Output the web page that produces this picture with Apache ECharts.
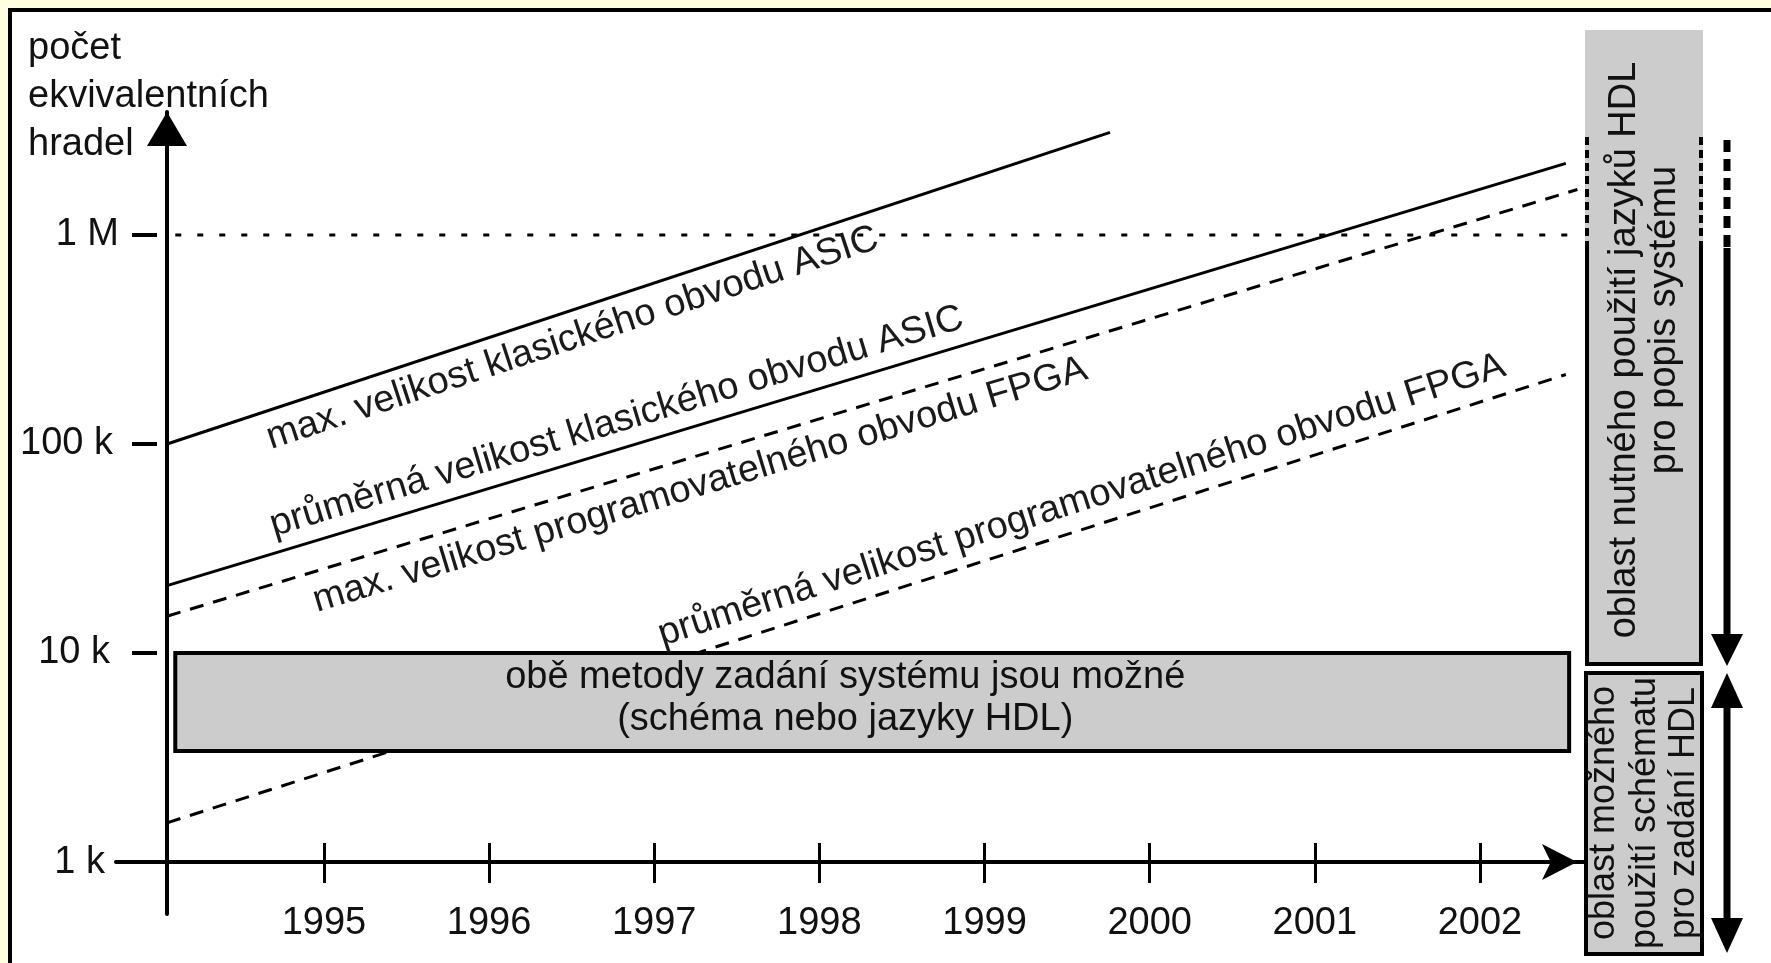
<!DOCTYPE html>
<html>
<head>
<meta charset="utf-8">
<script src="https://cdn.jsdelivr.net/npm/echarts/dist/echarts.min.js"></script>
<style>
html,body{margin:0;padding:0;background:#ffffff;}
#chart{width:1771px;height:963px;}
</style>
</head>
<body>
<div id="chart"></div>
<script>
// ---------------- data ----------------
const years = [1995, 1996, 1997, 1998, 1999, 2000, 2001, 2002];
const yTickValues = [1000, 10000, 100000, 1000000];
const yTickLabels = ['1 k', '10 k', '100 k', '1 M'];

const seriesNames = [
  'max. velikost klasického obvodu ASIC',
  'průměrná velikost klasického obvodu ASIC',
  'max. velikost programovatelného obvodu FPGA',
  'průměrná velikost programovatelného obvodu FPGA'
];
// [year, number of equivalent gates]
const maxAsic = [[1994.05, 100000], [1999.76, 3100000]];
const avgAsic = [[1994.05, 21000], [2002.52, 2200000]];
const maxFpga = [[1994.05, 15000], [2002.59, 1650000]];
const avgFpga = [[1994.05, 1540], [2002.52, 215000]];
const oneMillion = [[1994.10, 1000000], [2002.55, 1000000]];

// region where both methods are possible
const bothYears = [1994.10, 2002.54];
const bothGates = [10000, 3400];
const bothText = 'obě metody zadání systému jsou možné\n(schéma nebo jazyky HDL)';

const yTitle = 'počet\nekvivalentních\nhradel';
const hdlText = ['oblast nutného použití jazyků HDL', 'pro popis systému'];
const schemText = ['oblast možného', 'použití schématu', 'pro zadání HDL'];

// ---------------- layout ----------------
const FONT = '"Liberation Sans", Arial, Helvetica, sans-serif';
const X_MIN = 1993.741, X_MAX = 2002.636;
const Y_MIN = 564, Y_MAX = 3877000;
const lineSets = [maxAsic, avgAsic, maxFpga, avgFpga];
// label placement along each line: fraction, side (+1 below, -1 above), distance px
const labelLayout = [
  {line: 0, t: 0.421, side: 1, dist: 27},
  {line: 1, t: 0.327, side: -1, dist: 27},
  {line: 2, t: 0.372, side: 1, dist: 29},
  {line: 3, t: 0.660, side: -1, dist: 28}
];
// right padding of y tick labels (1 k, 10 k, 100 k, 1 M)
const yLabelPad = [14, 9, 6, 0];

function yLabel(v) {
  for (let i = 0; i < yTickValues.length; i++) {
    if (Math.abs(Math.log10(v) - Math.log10(yTickValues[i])) < 1e-6) return '{p' + i + '|' + yTickLabels[i] + '}';
  }
  return '';
}
const yRich = {};
yLabelPad.forEach((p, i) => {
  yRich['p' + i] = {fontSize: 38, fontFamily: FONT, color: '#111', padding: [0, p, 0, 0]};
});

const chart = echarts.init(document.getElementById('chart'), null, {renderer: 'canvas'});

const lineStyles = [
  {color: '#000', width: 3, type: 'solid'},
  {color: '#000', width: 3, type: 'solid'},
  {color: '#000', width: 3, type: [14, 10]},
  {color: '#000', width: 3, type: [14, 10]}
];

const series = lineSets.map((d, i) => ({
  type: 'line', name: seriesNames[i], data: d, xAxisIndex: 0, yAxisIndex: 0,
  symbol: 'none', lineStyle: lineStyles[i], clip: false, silent: true, z: 2,
  animation: false
}));

series.push({
  type: 'line', name: '1 M', data: oneMillion, xAxisIndex: 0, yAxisIndex: 0,
  symbol: 'none', lineStyle: {color: '#000', width: 3, type: [6, 16]},
  clip: false, silent: true, z: 2, animation: false
});

series.push({
  type: 'custom', name: 'both', xAxisIndex: 0, yAxisIndex: 0, z: 5, clip: false,
  silent: true, animation: false,
  data: [[bothYears[0], bothGates[0], bothYears[1], bothGates[1]]],
  renderItem: function (params, api) {
    const a = api.coord([api.value(0), api.value(1)]);
    const b = api.coord([api.value(2), api.value(3)]);
    return {
      type: 'rect',
      shape: {x: a[0], y: a[1], width: b[0] - a[0], height: b[1] - a[1]},
      style: {fill: '#cccccc', stroke: '#000', lineWidth: 4},
      textContent: {
        style: {text: bothText, font: '38px ' + FONT, fill: '#111',
                align: 'center', verticalAlign: 'middle', lineHeight: 42}
      },
      textConfig: {position: 'inside', offset: [-27, -3]}
    };
  }
});

series.push({
  type: 'custom', name: 'labels', xAxisIndex: 0, yAxisIndex: 0, z: 6, clip: false,
  silent: true, animation: false,
  data: labelLayout.map((l, i) => [i]),
  renderItem: function (params, api) {
    const L = labelLayout[params.dataIndex];
    const pts = lineSets[L.line];
    const a = api.coord(pts[0]);
    const b = api.coord(pts[pts.length - 1]);
    const dx = b[0] - a[0], dy = b[1] - a[1];
    const len = Math.hypot(dx, dy);
    const nx = -dy / len, ny = dx / len;
    return {
      type: 'text',
      x: a[0] + dx * L.t + L.side * nx * L.dist,
      y: a[1] + dy * L.t + L.side * ny * L.dist,
      rotation: Math.atan2(-dy, dx),
      style: {text: seriesNames[L.line], font: '38px ' + FONT, fill: '#1a1a1a',
              align: 'center', verticalAlign: 'middle'}
    };
  }
});

const axisLabelFont = {fontSize: 38, fontFamily: FONT, color: '#111'};

const option = {
  backgroundColor: '#ffffff',
  animation: false,
  title: {
    text: yTitle, left: 28, top: 25, padding: 0,
    textStyle: {fontSize: 38, fontWeight: 'normal', fontFamily: FONT, color: '#111', lineHeight: 48}
  },
  grid: {left: 116, right: 186, top: 112, bottom: 49, containLabel: false, outerBoundsMode: 'none'},
  xAxis: [
    {
      type: 'value', min: X_MIN, max: X_MAX, position: 'bottom', offset: -52,
      axisLine: {show: true, lineStyle: {color: '#000', width: 4},
                 symbol: ['none', 'arrow'], symbolSize: [27, 35], symbolOffset: [0, -8]},
      axisTick: {show: true, inside: true, length: 19, customValues: years,
                 lineStyle: {color: '#000', width: 3}},
      axisLabel: Object.assign({show: true, customValues: years, margin: 43,
                 formatter: v => String(Math.round(v))}, axisLabelFont),
      splitLine: {show: false}
    },
    {
      type: 'value', min: X_MIN, max: X_MAX, position: 'bottom', offset: -52,
      axisLine: {show: false},
      axisTick: {show: true, inside: false, length: 21, customValues: years,
                 lineStyle: {color: '#000', width: 3}},
      axisLabel: {show: false},
      splitLine: {show: false}
    }
  ],
  yAxis: [
    {
      type: 'log', logBase: 10, min: Y_MIN, max: Y_MAX, position: 'left', offset: -51,
      axisLine: {show: true, lineStyle: {color: '#000', width: 4},
                 symbol: ['none', 'triangle'], symbolSize: [40, 34], symbolOffset: [0, -17]},
      axisTick: {show: false}, axisLabel: {show: false}, splitLine: {show: false}
    },
    {
      type: 'log', logBase: 10, min: Y_MIN, max: Y_MAX, position: 'left', offset: -41,
      axisLine: {show: false},
      axisTick: {show: true, length: 25, customValues: yTickValues.slice(1),
                 lineStyle: {color: '#000', width: 4}},
      axisLabel: Object.assign({show: true, customValues: yTickValues, margin: 38,
                 formatter: v => yLabel(v), rich: yRich}, axisLabelFont),
      splitLine: {show: false}
    }
  ],
  graphic: [
    // page frame
    {type: 'rect', shape: {x: 0, y: 0, width: 1771, height: 8}, style: {fill: '#fefee0'}, silent: true},
    {type: 'rect', shape: {x: 0, y: 0, width: 8, height: 963}, style: {fill: '#fefee0'}, silent: true},
    {type: 'line', shape: {x1: 10, y1: 8, x2: 10, y2: 963}, style: {stroke: '#000', lineWidth: 4}, silent: true},
    {type: 'line', shape: {x1: 8, y1: 10, x2: 1771, y2: 10}, style: {stroke: '#000', lineWidth: 4}, silent: true},
    // HDL region (top)
    {type: 'rect', shape: {x: 1585, y: 30, width: 118, height: 634}, style: {fill: '#cccccc'}, silent: true},
    {type: 'line', shape: {x1: 1587, y1: 137, x2: 1587, y2: 248}, style: {stroke: '#000', lineWidth: 4, lineDash: [8, 5]}, silent: true},
    {type: 'line', shape: {x1: 1701, y1: 137, x2: 1701, y2: 248}, style: {stroke: '#000', lineWidth: 4, lineDash: [8, 5]}, silent: true},
    {type: 'polyline', shape: {points: [[1587, 248], [1587, 664], [1701, 664], [1701, 248]]}, style: {stroke: '#000', lineWidth: 4, fill: null}, silent: true},
    {type: 'text', x: 1625, y: 350, rotation: Math.PI / 2,
     style: {text: hdlText[0], font: '38px ' + FONT, fill: '#111', align: 'center', verticalAlign: 'middle'}, silent: true},
    {type: 'text', x: 1665, y: 320, rotation: Math.PI / 2,
     style: {text: hdlText[1], font: '38px ' + FONT, fill: '#111', align: 'center', verticalAlign: 'middle'}, silent: true},
    // schematic region (bottom)
    {type: 'rect', shape: {x: 1586, y: 673, width: 116, height: 281}, style: {fill: '#cccccc', stroke: '#000', lineWidth: 4}, silent: true},
    {type: 'text', x: 1604, y: 813, rotation: Math.PI / 2,
     style: {text: schemText[0], font: '36px ' + FONT, fill: '#111', align: 'center', verticalAlign: 'middle'}, silent: true},
    {type: 'text', x: 1645, y: 813, rotation: Math.PI / 2,
     style: {text: schemText[1], font: '36px ' + FONT, fill: '#111', align: 'center', verticalAlign: 'middle'}, silent: true},
    {type: 'text', x: 1684, y: 813, rotation: Math.PI / 2,
     style: {text: schemText[2], font: '36px ' + FONT, fill: '#111', align: 'center', verticalAlign: 'middle'}, silent: true},
    // arrows on the right
    {type: 'line', shape: {x1: 1727, y1: 140, x2: 1727, y2: 248}, style: {stroke: '#000', lineWidth: 7, lineDash: [12, 7]}, silent: true},
    {type: 'line', shape: {x1: 1727, y1: 248, x2: 1727, y2: 640}, style: {stroke: '#000', lineWidth: 7}, silent: true},
    {type: 'polygon', shape: {points: [[1727, 666], [1711, 634], [1743, 634]]}, style: {fill: '#000'}, silent: true},
    {type: 'line', shape: {x1: 1727, y1: 700, x2: 1727, y2: 925}, style: {stroke: '#000', lineWidth: 7}, silent: true},
    {type: 'polygon', shape: {points: [[1727, 673], [1711, 708], [1743, 708]]}, style: {fill: '#000'}, silent: true},
    {type: 'polygon', shape: {points: [[1727, 953], [1711, 918], [1743, 918]]}, style: {fill: '#000'}, silent: true}
  ],
  series: series
};

chart.setOption(option);
</script>
</body>
</html>
